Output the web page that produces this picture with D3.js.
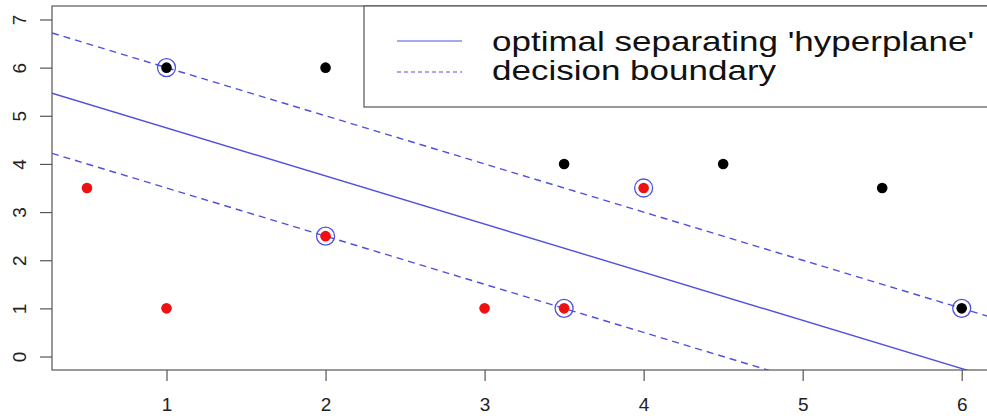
<!DOCTYPE html>
<html><head><meta charset="utf-8">
<script src="https://cdn.jsdelivr.net/npm/d3@7"></script>
<style>html,body{margin:0;padding:0;background:#fff;} svg{display:block;font-family:"Liberation Sans",Arial,sans-serif;}</style>
</head><body>
<svg id="c" width="987" height="416"></svg>
<script>
// Data
const blackX = [1, 2, 3.5, 4.5, 5.5, 6];
const blackY = [6, 6, 4, 4, 3.5, 1];
const redX = [0.5, 1, 2, 3, 3.5, 4];
const redY = [3.5, 1, 2.5, 1, 1, 3.5];
const svX = [1, 2, 3.5, 4, 6];
const svY = [6, 2.5, 1, 3.5, 1];
const lineNames = ["optimal separating 'hyperplane'", "decision boundary", "decision boundary"];
const lineIntercepts = [5.75, 7, 4.5];
const lineSlopes = [-1, -1, -1];
const xTicks = [1, 2, 3, 4, 5, 6];
const yTicks = [0, 1, 2, 3, 4, 5, 6, 7];
const xDomain = [0.28, 6.22];
const yDomain = [-0.28, 7.28];

const svg = d3.select("#c");
const L = 52, R = 996.7, T = 6, B = 370;
const x = d3.scaleLinear().domain(xDomain).range([L, R]);
const y = d3.scaleLinear().domain(yDomain).range([B, T]);
const blue = "#5050e0";
const axisCol = "#555";

svg.append("defs").append("clipPath").attr("id", "clip")
  .append("rect").attr("x", L).attr("y", T).attr("width", R - L).attr("height", B - T);

// axes
const xa = svg.append("g").attr("transform", `translate(0,${B})`)
  .call(d3.axisBottom(x).tickValues(xTicks).tickSize(11).tickPadding(17).tickFormat(d3.format("d")));
const ya = svg.append("g").attr("transform", `translate(${L},0)`)
  .call(d3.axisLeft(y).tickValues(yTicks).tickSize(12).tickPadding(0).tickFormat(d3.format("d")));
[xa, ya].forEach(g => {
  g.select(".domain").remove();
  g.selectAll(".tick line").attr("stroke", axisCol).attr("stroke-width", 1.2);
  g.selectAll(".tick text").attr("fill", "#222").style("font-size", "19px");
});
xa.selectAll(".tick text").attr("dy", "0.71em");
ya.selectAll(".tick text")
  .attr("text-anchor", "middle").attr("dy", null).attr("x", null)
  .attr("transform", "translate(-33,0) rotate(-90)").attr("dy", "0.35em");

// lines
const lg = svg.append("g").attr("clip-path", "url(#clip)");
lineIntercepts.forEach((a, i) => {
  const b = lineSlopes[i];
  lg.append("line")
    .attr("x1", x(xDomain[0])).attr("y1", y(a + b * xDomain[0]))
    .attr("x2", x(xDomain[1])).attr("y2", y(a + b * xDomain[1]))
    .attr("stroke", blue).attr("stroke-width", 1.4)
    .attr("stroke-dasharray", i === 0 ? null : "7,5");
});

// points
const pg = svg.append("g");
pg.selectAll(".blk").data(d3.range(blackX.length)).join("circle")
  .attr("cx", i => x(blackX[i])).attr("cy", i => y(blackY[i])).attr("r", 5.3).attr("fill", "#000");
pg.selectAll(".red").data(d3.range(redX.length)).join("circle")
  .attr("cx", i => x(redX[i])).attr("cy", i => y(redY[i])).attr("r", 5.3).attr("fill", "#ee1111");
pg.selectAll(".sv").data(d3.range(svX.length)).join("circle")
  .attr("cx", i => x(svX[i])).attr("cy", i => y(svY[i])).attr("r", 9).attr("fill", "none")
  .attr("stroke", blue).attr("stroke-width", 1.3);

// box
svg.append("rect").attr("x", L).attr("y", T).attr("width", R - L).attr("height", B - T)
  .attr("fill", "none").attr("stroke", axisCol).attr("stroke-width", 1.2);

// legend
const leg = svg.append("g");
leg.append("rect").attr("x", 364).attr("y", T).attr("width", R - 364).attr("height", 107 - T)
  .attr("fill", "#fff").attr("stroke", axisCol).attr("stroke-width", 1.2);
const legItems = [0, 1];
const legY = [41, 72];
const legBase = [51, 80];
legItems.forEach((k, j) => {
  leg.append("line").attr("x1", 397).attr("x2", 462).attr("y1", legY[j]).attr("y2", legY[j])
    .attr("stroke", blue).attr("stroke-width", 1.2).attr("stroke-dasharray", k === 0 ? null : "4,3");
  leg.append("text").attr("transform", `translate(492,${legBase[j]}) scale(1.25,1)`)
    .style("font-size", "28px").attr("fill", "#111").text(lineNames[k]);
});
</script>
</body></html>
